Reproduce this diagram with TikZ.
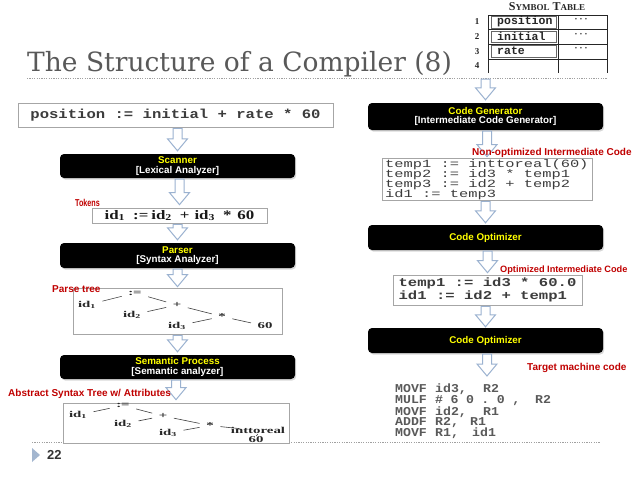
\documentclass[tikz,border=0pt]{standalone}
\usepackage{fontspec}
\setmainfont{Liberation Serif}
\newfontfamily\titlefont{DejaVu Serif}
\newfontfamily\sansB{Liberation Sans}
\newfontfamily\sansC[FakeStretch=0.72]{Liberation Sans}
\newfontfamily\monoPos[FakeStretch=1.2]{Liberation Mono}
\newfontfamily\monoCode[FakeStretch=1.4]{Liberation Mono}
\newfontfamily\monoOpt[FakeStretch=1.3]{Liberation Mono}
\newfontfamily\monoTgt[FakeStretch=1.1]{Liberation Mono}
\newfontfamily\monoTbl{Liberation Mono}
\newfontfamily\tokfont[FakeStretch=1.3]{Liberation Serif}
\newfontfamily\treefont[FakeStretch=1.65]{Liberation Serif}
\usetikzlibrary{calc,shadows}
\definecolor{titlegray}{HTML}{595959}
\definecolor{labred}{HTML}{C00000}
\definecolor{arrowblue}{HTML}{9BB2D0}
\definecolor{boxyellow}{HTML}{FFFF00}
\definecolor{codegray}{HTML}{3C3C3C}
\definecolor{tgtgray}{HTML}{5A5A5A}
\definecolor{framegray}{HTML}{A6A6A6}
\definecolor{dotgray}{HTML}{A0A0A0}
\definecolor{trigray}{HTML}{A3B6CF}
\definecolor{numgray}{HTML}{333333}
\newcommand\flowarrow[2]{%
  \draw[harrow] let \p1=(#1), \p2=(#2) in
    (\x2-4.5pt,\y1) -- (\x2+4.5pt,\y1) -- (\x2+4.5pt,\y2+12pt) -- (\x2+10pt,\y2+12pt)
    -- (\x2,\y2) -- (\x2-10pt,\y2+12pt) -- (\x2-4.5pt,\y2+12pt) -- cycle;}
\begin{document}
\begin{tikzpicture}[x=1pt,y=-1pt,
  blackbox/.style={fill=black, rounded corners=4pt, minimum width=235pt, inner sep=0pt,
    align=center, text=white, font=\sansB\bfseries\fontsize{9.8}{9.6}\selectfont,
    drop shadow={shadow xshift=1.2pt, shadow yshift=-1.5pt, opacity=0.3}},
  codebox/.style={draw=framegray, line width=0.7pt, fill=white, inner sep=0pt},
  codeline/.style={anchor=base west, inner sep=0pt, text=codegray, font=\monoCode\fontsize{11}{10}\selectfont},
  harrow/.style={draw=arrowblue, fill=white, line width=1pt},
  redlabel/.style={inner sep=0pt, text=labred, font=\sansB\bfseries\fontsize{10}{10}\selectfont},
  tnode/.style={inner sep=1.5pt, text=black!85, font=\treefont\bfseries\fontsize{9}{10}\selectfont},
  tedge/.style={draw=black!75, line width=0.6pt, shorten <=5pt, shorten >=5pt},
  dotline/.style={draw=dotgray, line width=0.6pt, dash pattern=on 1.2pt off 1.2pt},
  tbl/.style={draw=black!85, line width=0.9pt},
  tblin/.style={draw=black!60, line width=0.5pt},
  tbltext/.style={anchor=west, inner sep=0pt, text=black!85, font=\monoTbl\bfseries\fontsize{11.5}{12}\selectfont},
  tblnum/.style={inner sep=0pt, text=black!85, font=\bfseries\fontsize{9}{9}\selectfont},
  tbldots/.style={inner sep=0pt, text=black!75, font=\bfseries\fontsize{10}{10}\selectfont},
  tgt/.style={anchor=base west, inner sep=0pt, text=tgtgray, font=\monoTgt\bfseries\fontsize{12}{12}\selectfont},
]
\useasboundingbox (0,0) rectangle (638,479);
\fill[white] (0,0) rectangle (638,479);

% title and rules
\node[anchor=base west, inner sep=0pt, text=titlegray,
  font=\titlefont\fontsize{26.5}{30}\selectfont] (title) at (27,71) {The Structure of a Compiler (8)};
\draw[dotline] (27,78) -- (607,78);
\draw[dotline] (32,442) -- (600,442);

% symbol table
\node[inner sep=0pt, text=black!85, font=\bfseries\fontsize{12}{12}\selectfont] (sttitle) at (547,7)
  {S{\fontsize{9}{9}\selectfont YMBOL} T{\fontsize{9}{9}\selectfont ABLE}};
\draw[tbl] (488,73) -- (488,15) -- (607,15) -- (607,73);
\draw[tbl] (558,15) -- (558,73);
\draw[tbl] (488,29.5) -- (607,29.5);
\draw[tbl] (488,44) -- (607,44);
\draw[tbl] (488,59) -- (607,59);
\draw[tblin] (491.5,16.5) rectangle (556.5,28);
\draw[tblin] (491.5,31) rectangle (556.5,42.5);
\draw[tblin] (491.5,45.5) rectangle (556.5,57.5);
\node[tblnum] (r1) at (477,22) {1};
\node[tblnum] (r2) at (477,37) {2};
\node[tblnum] (r3) at (477,51.5) {3};
\node[tblnum] (r4) at (477,66) {4};
\node[tbltext] (e1) at (497,22) {position};
\node[tbltext] (e2) at (497,36.5) {initial};
\node[tbltext] (e3) at (497,51) {rate};
\node[tbldots] (d1) at (581,20.5) {·\,·\,·};
\node[tbldots] (d2) at (581,35) {·\,·\,·};
\node[tbldots] (d3) at (581,49.5) {·\,·\,·};

% left column
\node[codebox, minimum width=315pt, minimum height=24pt, text=codegray,
  font=\monoPos\bfseries\fontsize{13}{14}\selectfont] (pos) at (175.5,115) {position := initial + rate * 60};
\node[blackbox, minimum height=24pt] (scan) at (177.5,166)
  {\textcolor{boxyellow}{Scanner}\\{[Lexical Analyzer]}};
\node[codebox, minimum width=175pt, minimum height=15pt, text=black!90,
  font=\tokfont\bfseries\fontsize{13}{14}\selectfont] (tok) at (179.5,215.5)
  {id\textsubscript{1}\hspace{8pt}:=\hspace{3pt}id\textsubscript{2}\hspace{8pt}+\hspace{5pt}id\textsubscript{3}\hspace{8pt}*\hspace{6pt}60};
\node[blackbox, minimum height=25pt] (pars) at (177.5,255.5)
  {\textcolor{boxyellow}{Parser}\\{[Syntax Analyzer]}};
\node[codebox, minimum width=209pt, minimum height=46pt] (ptbox) at (177.5,311) {};
\node[tnode] (pa) at (135,293) {:=};
\node[tnode] (pid1) at (87,305) {id\textsubscript{1}};
\node[tnode] (pplus) at (177,305) {+};
\node[tnode] (pid2) at (132,315) {id\textsubscript{2}};
\node[tnode] (ptimes) at (222,316.5) {*};
\node[tnode] (pid3) at (177,326) {id\textsubscript{3}};
\node[tnode] (p60) at (265,326) {60};
\draw[tedge] (pid1) -- (pa);
\draw[tedge] (pa) -- (pplus);
\draw[tedge] (pid2) -- (pplus);
\draw[tedge] (pplus) -- (ptimes);
\draw[tedge] (pid3) -- (ptimes);
\draw[tedge] (ptimes) -- (p60);
\node[blackbox, minimum height=24pt] (sem) at (177.5,367)
  {\textcolor{boxyellow}{Semantic Process}\\{[Semantic analyzer]}};
\node[codebox, minimum width=226pt, minimum height=40pt] (astbox) at (176,423) {};
\node[tnode] (aa) at (123,405.5) {:=};
\node[tnode] (aid1) at (78,415) {id\textsubscript{1}};
\node[tnode] (aplus) at (163,416) {+};
\node[tnode] (aid2) at (123,424) {id\textsubscript{2}};
\node[tnode] (atimes) at (210,425.5) {*};
\node[tnode] (aid3) at (168,433) {id\textsubscript{3}};
\node[tnode, inner sep=0pt] (aitr) at (258,430.5) {inttoreal};
\node[tnode, inner sep=0pt] (a60) at (256,439.5) {60};
\draw[tedge] (aid1) -- (aa);
\draw[tedge] (aa) -- (aplus);
\draw[tedge] (aid2) -- (aplus);
\draw[tedge] (aplus) -- (atimes);
\draw[tedge] (aid3) -- (atimes);
\draw[tedge, shorten >=0pt] (atimes) -- ([xshift=9pt,yshift=-1.5pt]aitr.north west);
\draw[tedge, shorten <=0.3pt, shorten >=0.3pt] (aitr.south) -- (a60.north);

\flowarrow{$(pos.south)+(0,1)$}{$(scan.north)+(0,-3)$}
\flowarrow{$(scan.south)+(0,1)$}{$(tok.north)+(0,-3)$}
\flowarrow{$(tok.south)+(0,1)$}{$(pars.north)+(0,-3)$}
\flowarrow{$(pars.south)+(0,1)$}{$(ptbox.north)+(0,-1)$}
\flowarrow{$(ptbox.south)+(0,1)$}{$(sem.north)+(0,-3)$}
\flowarrow{$(sem.south)+(0,1)$}{$(astbox.north)+(0,-3)$}

\node[redlabel, anchor=west, font=\sansC\bfseries\fontsize{10}{10}\selectfont] (toklab) at (75,203) {Tokens};
\node[redlabel, anchor=west] (ptlab) at (52,289) {Parse tree};
\node[redlabel, anchor=west] (astlab) at (8,394) {Abstract Syntax Tree w/ Attributes};

% right column
\coordinate (cgin) at (486,79);
\node[blackbox, minimum height=27pt] (cg) at (485.5,116.5)
  {\textcolor{boxyellow}{Code Generator}\\{[Intermediate Code Generator]}};
\node[codebox, minimum width=210pt, minimum height=42pt] (ic) at (487,179) {};
\node[codeline] (ic1) at (385,167.5) {temp1 := inttoreal(60)};
\node[codeline] (ic2) at (385,177.5) {temp2 := id3 * temp1};
\node[codeline] (ic3) at (385,187.5) {temp3 := id2 + temp2};
\node[codeline] (ic4) at (385,197.5) {id1 := temp3};
\node[blackbox, minimum height=25pt] (opt1) at (485.5,237.5) {\textcolor{boxyellow}{Code Optimizer}};
\node[codebox, minimum width=189pt, minimum height=30pt, align=left, text=codegray,
  font=\monoOpt\bfseries\fontsize{12}{12.5}\selectfont] (oc) at (487.5,290)
  {temp1 := id3 * 60.0\\id1 := id2 + temp1};
\node[blackbox, minimum height=25pt] (opt2) at (485.5,340.5) {\textcolor{boxyellow}{Code Optimizer}};
\coordinate (tgtin) at (487,376);
\node[tgt] (tg1) at (395,392) {\makebox[40pt][l]{MOVF}\makebox[48pt][l]{id3,}R2};
\node[tgt] (tg2) at (395,403.5) {\makebox[40pt][l]{MULF}\makebox[85pt][s]{\#\hfil 6\hfil 0\hfil .\hfil 0\hfil ,}\hspace{15pt}R2};
\node[tgt] (tg3) at (395,415) {\makebox[40pt][l]{MOVF}\makebox[48pt][l]{id2,}R1};
\node[tgt] (tg4) at (395,425.5) {\makebox[40pt][l]{ADDF}\makebox[35pt][l]{R2,}R1};
\node[tgt] (tg5) at (395,436) {\makebox[40pt][l]{MOVF}\makebox[37pt][l]{R1,}id1};

\flowarrow{cgin}{$(cg.north)+(0,-3)$}
\flowarrow{$(cg.south)+(0,1)$}{$(ic.north)+(0,-1)$}
\flowarrow{$(ic.south)+(0,1)$}{$(opt1.north)+(0,-2)$}
\flowarrow{$(opt1.south)+(0,1)$}{$(oc.north)+(0,-2)$}
\flowarrow{$(oc.south)+(0,1)$}{$(opt2.north)+(0,-1)$}
\flowarrow{$(opt2.south)+(0,1)$}{tgtin}

\node[redlabel, anchor=west] (iclab) at (472,152.5) {Non-optimized Intermediate Code};
\node[redlabel, anchor=west, font=\sansB\bfseries\fontsize{9.2}{10}\selectfont] (oclab) at (500,270) {Optimized Intermediate Code};
\node[redlabel, anchor=west] (tglab) at (527,368) {Target machine code};

% page number
\fill[trigray] (32,448) -- (40,455) -- (32,462) -- cycle;
\node[anchor=west, inner sep=0pt, text=numgray, font=\sansB\bfseries\fontsize{13}{13}\selectfont] (pnum) at (47,455) {22};
\end{tikzpicture}
\end{document}
